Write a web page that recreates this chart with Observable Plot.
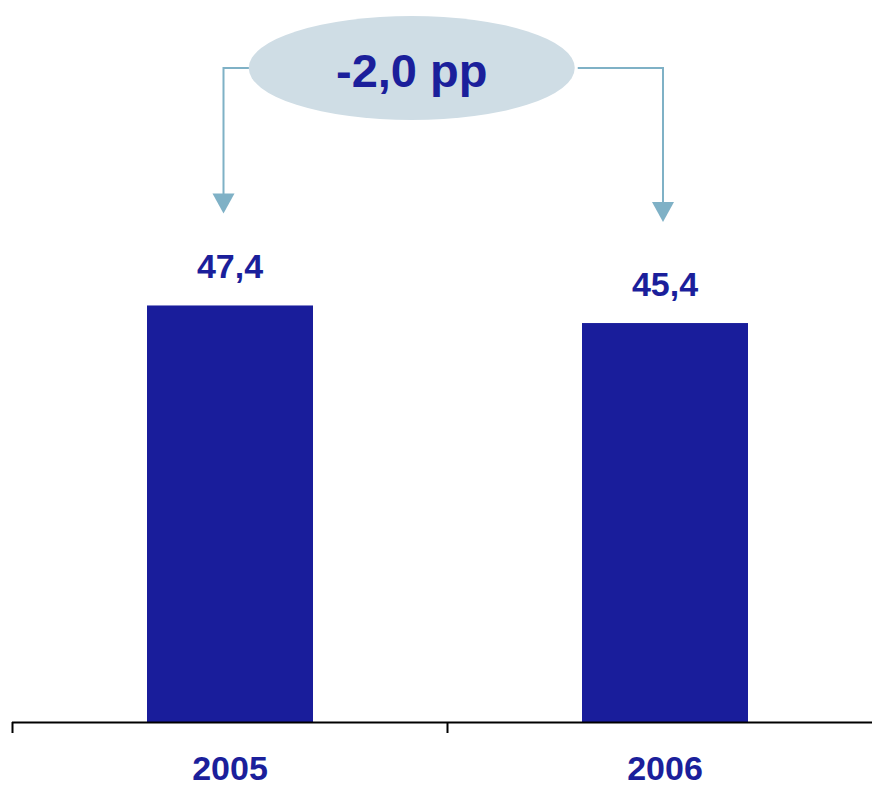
<!DOCTYPE html>
<html>
<head>
<meta charset="utf-8">
<script src="https://cdn.jsdelivr.net/npm/d3@7"></script>
<script src="https://cdn.jsdelivr.net/npm/@observablehq/plot@0.6"></script>
<style>
  html, body { margin: 0; padding: 0; background: #ffffff; overflow: hidden; }
  #chart svg { display: block; }
</style>
</head>
<body>
<div id="chart"></div>
<script>
// ---- data ----
const years = ["2005", "2006"];
const values = [47.4, 45.4];
const valueLabels = ["47,4", "45,4"];
const deltaLabel = "-2,0 pp";

// ---- style ----
const barColor = "#191d9b";
const textColor = "#1b1f9b";
const arrowColor = "#7fb1c6";
const bubbleColor = "#cfdde5";
const font = "'Liberation Sans', Arial, Helvetica, sans-serif";

const data = years.map((year, i) => ({year, value: values[i], label: valueLabels[i]}));

const W = 872, H = 786;
const xRange = [12, 882];
const step = (xRange[1] - xRange[0]) / years.length;

// annotation: bubble with elbow arrows pointing down to each bar
function annotation(index, scales) {
  const bw = typeof scales.x.bandwidth === "function" ? scales.x.bandwidth() : step;
  const cx = (yr) => scales.x(yr) + bw / 2;
  const levelY = 68;
  const leftX = cx(years[0]) - 6;
  const rightX = cx(years[1]) - 1.5;
  const leftTip = scales.y(values[0]) - 92;
  const rightTip = scales.y(values[1]) - 101;
  const ex = (leftX + rightX) / 2 - 31.5, ey = levelY, rx = 163, ry = 52;
  const head = 20, half = 11;

  const g = d3.create("svg:g");
  // connectors
  const path = d3.path();
  path.moveTo(ex - rx + 1, levelY); path.lineTo(leftX, levelY); path.lineTo(leftX, leftTip - head + 1);
  path.moveTo(ex + rx + 3, levelY); path.lineTo(rightX, levelY); path.lineTo(rightX, rightTip - head + 1);
  g.append("path").attr("d", path.toString())
    .attr("fill", "none").attr("stroke", arrowColor).attr("stroke-width", 2);
  // arrowheads
  for (const [x, tip] of [[leftX, leftTip], [rightX, rightTip]]) {
    g.append("path")
      .attr("d", `M${x - half},${tip - head}L${x + half},${tip - head}L${x},${tip}Z`)
      .attr("fill", arrowColor);
  }
  // bubble
  g.append("ellipse").attr("cx", ex).attr("cy", ey).attr("rx", rx).attr("ry", ry)
    .attr("fill", bubbleColor);
  g.append("text").attr("x", ex).attr("y", 87)
    .attr("text-anchor", "middle")
    .attr("font-family", font).attr("font-size", 47).attr("font-weight", "bold")
    .attr("fill", textColor)
    .text(deltaLabel);
  return g.node();
}

const chart = Plot.plot({
  width: W,
  height: H,
  marginLeft: 12,
  marginRight: 0,
  marginTop: 19,
  marginBottom: 64,
  style: {fontFamily: font, background: "#ffffff"},
  x: {domain: years, range: xRange, padding: 0, axis: null},
  y: {domain: [0, 80], axis: null},
  marks: [
    Plot.barY(data, {x: "year", y: "value", fill: barColor, insetLeft: 135, insetRight: 134}),
    Plot.text(data, {x: "year", y: "value", text: "label", dy: -28, lineAnchor: "bottom",
      fontSize: 34, fontWeight: "bold", fill: textColor}),
    Plot.ruleY([0], {stroke: "#000000", strokeWidth: 2}),
    Plot.axisX({tickSize: 11, tickFormat: () => "", label: null, dx: -step / 2, stroke: "#000000", strokeWidth: 2}),
    Plot.text(years, {x: d => d, frameAnchor: "bottom", dy: 57, lineAnchor: "bottom",
      fontSize: 34, fontWeight: "bold", fill: textColor}),
    annotation
  ]
});

document.getElementById("chart").appendChild(chart);
</script>
</body>
</html>
